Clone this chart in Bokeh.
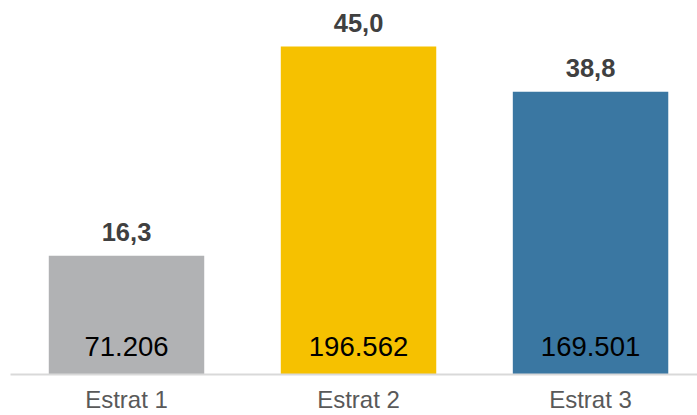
from bokeh.plotting import figure
from bokeh.models import Range1d, FixedTicker, ColumnDataSource
from bokeh.core.properties import value
from bokeh.embed import file_html
from bokeh.resources import INLINE

categories = ["Estrat 1", "Estrat 2", "Estrat 3"]
percent = [16.3, 45.0, 38.8]
counts = ["71.206", "196.562", "169.501"]
colors = ["#b1b2b4", "#f6c100", "#3a77a2"]

pos = list(range(len(categories)))
pct_labels = [f"{v:.1f}".replace(".", ",") for v in percent]

src = ColumnDataSource(dict(x=pos, top=percent, color=colors,
                            pct=pct_labels, cnt=counts, zero=[0]*len(pos)))

p = figure(width=697, height=415, output_backend="svg", toolbar_location=None,
           x_range=Range1d(-0.5, 2.461), y_range=Range1d(0, 51.33),
           min_border_left=10, min_border_right=0, min_border_top=0, min_border_bottom=0)
p.outline_line_color = None
p.grid.grid_line_color = None
p.yaxis.visible = False

p.vbar(x="x", top="top", width=0.67, color="color", line_color=None, source=src)

p.text(x="x", y="top", text="pct", source=src, text_align="center",
       text_baseline="alphabetic", y_offset=-24,
       text_font=value("Liberation Sans"), text_font_style="bold",
       text_font_size="25.5px", text_color="#404040")
p.text(x="x", y="zero", text="cnt", source=src, text_align="center",
       text_baseline="alphabetic", y_offset=-28,
       text_font=value("Liberation Sans"),
       text_font_size="27.5px", text_color="#000000")

ax = p.xaxis[0]
ax.ticker = FixedTicker(ticks=pos)
ax.major_label_overrides = {i: c for i, c in zip(pos, categories)}
ax.major_tick_line_color = None
ax.minor_tick_line_color = None
ax.major_tick_out = 0
ax.major_tick_in = 0
ax.minor_tick_out = 0
ax.minor_tick_in = 0
ax.axis_line_color = "#d9d9d9"
ax.axis_line_width = 2
ax.major_label_standoff = 11
ax.major_label_text_font = "Liberation Sans"
ax.major_label_text_font_size = "24px"
ax.major_label_text_color = "#595959"

open("out.html", "w").write(file_html(p, INLINE))
